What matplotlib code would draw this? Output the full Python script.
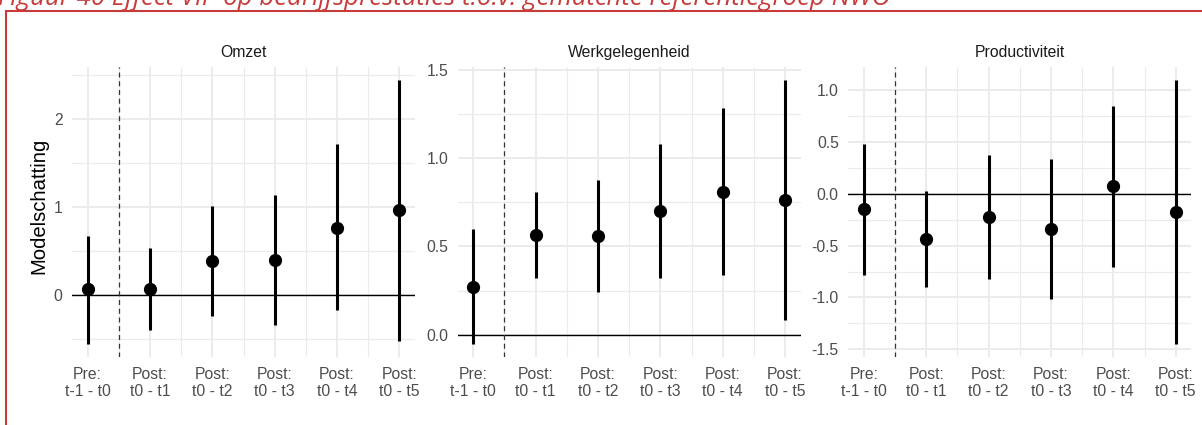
import matplotlib.pyplot as plt
from matplotlib.patches import Rectangle
from matplotlib.ticker import MultipleLocator, FixedLocator

plt.rcParams['font.family'] = ['Liberation Sans', 'DejaVu Sans']

categories = ['Pre:\nt-1 - t0', 'Post:\nt0 - t1', 'Post:\nt0 - t2',
              'Post:\nt0 - t3', 'Post:\nt0 - t4', 'Post:\nt0 - t5']
panels = ['Omzet', 'Werkgelegenheid', 'Productiviteit']

omzet_est = [0.065, 0.065, 0.385, 0.40, 0.76, 0.96]
omzet_lo = [-0.55, -0.40, -0.24, -0.34, -0.17, -0.52]
omzet_hi = [0.67, 0.53, 1.01, 1.14, 1.71, 2.44]

werk_est = [0.273, 0.564, 0.56, 0.70, 0.809, 0.761]
werk_lo = [-0.049, 0.32, 0.245, 0.324, 0.338, 0.085]
werk_hi = [0.596, 0.809, 0.878, 1.08, 1.283, 1.442]

prod_est = [-0.151, -0.434, -0.222, -0.344, 0.073, -0.174]
prod_lo = [-0.785, -0.897, -0.826, -1.019, -0.704, -1.445]
prod_hi = [0.482, 0.032, 0.379, 0.337, 0.844, 1.10]

data = [(omzet_est, omzet_lo, omzet_hi, 1.0),
        (werk_est, werk_lo, werk_hi, 0.5),
        (prod_est, prod_lo, prod_hi, 0.5)]

W, H = 1202, 425
fig = plt.figure(figsize=(W / 100, H / 100), dpi=100)

lefts = [72, 457.7, 848.3]
pw = 343
top, bottom = 66.7, 356.7
grid_c = '#EBEBEB'

x = list(range(1, len(categories) + 1))
for i, (est, lo, hi, step) in enumerate(data):
    ax = fig.add_axes([lefts[i] / W, (H - bottom) / H, pw / W, (bottom - top) / H])
    ax.vlines(x, lo, hi, color='black', lw=2.2, zorder=3)
    ax.plot(x, est, 'o', color='black', ms=8.5, zorder=4)
    ax.axhline(0, color='black', lw=1, zorder=2)
    ax.axvline(1.5, color='#333333', lw=0.9, ls=(0, (4, 3)), zorder=2)

    ymin, ymax = min(lo), max(hi)
    rng = ymax - ymin
    ax.set_ylim(ymin - 0.05 * rng, ymax + 0.05 * rng)
    ax.set_xlim(0.75, 6.25)

    ax.set_xticks(x)
    ax.set_xticklabels(categories)
    ax.xaxis.set_minor_locator(FixedLocator([1.5, 2.5, 3.5, 4.5, 5.5]))
    ax.yaxis.set_major_locator(MultipleLocator(step))
    ax.yaxis.set_minor_locator(MultipleLocator(step / 2))
    if step == 0.5:
        ax.yaxis.set_major_formatter(plt.FormatStrFormatter('%.1f'))
    else:
        ax.yaxis.set_major_formatter(plt.FormatStrFormatter('%d'))

    ax.grid(which='major', color=grid_c, lw=1.4)
    ax.grid(which='minor', color=grid_c, lw=0.8)
    ax.set_axisbelow(True)
    for s in ax.spines.values():
        s.set_visible(False)
    ax.tick_params(which='both', length=0)
    ax.tick_params(axis='y', pad=6.8, labelsize=11.3, labelcolor='#4D4D4D')
    ax.tick_params(axis='x', pad=7.5, labelsize=11.3, labelcolor='#4D4D4D')
    for t in ax.get_xticklabels():
        t.set_linespacing(1.15)
    ax.set_title(panels[i], fontsize=11.3, color='#1A1A1A', pad=7)

fig.text(39 / W, 1 - 206 / H, 'Modelschatting', rotation=90, ha='center',
         va='center', fontsize=14.6, color='black')

# red frame and (cut-off) caption
fig.patches.append(Rectangle((5.7 / W, -0.1), 1.2, 1 - 11 / H + 0.1,
                             transform=fig.transFigure, fill=False,
                             ec='#C93A3A', lw=1.5, clip_on=False))
fig.text(-2 / W, 1 - 5 / H,
         'Figuur 40 Effect VIP op bedrijfsprestaties t.o.v. gematchte referentiegroep NWO',
         ha='left', va='baseline', fontsize=18.5, style='italic', color='#C93A3A',
         family=['Open Sans', 'DejaVu Sans'])

fig.savefig('out.png', dpi=100)
